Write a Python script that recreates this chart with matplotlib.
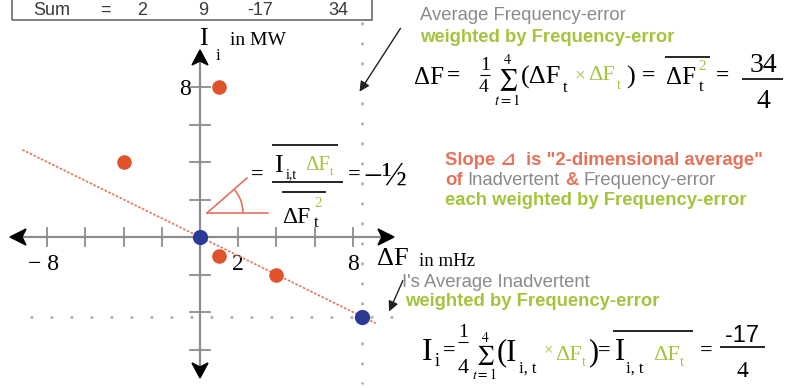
import numpy as np
import matplotlib.pyplot as plt
from matplotlib.patches import Polygon, Rectangle, Arc

# four samples: frequency-error (mHz) and inadvertent interchange (MW)
dF = np.array([1, -4, 1, 4])
I_i = np.array([8, 4, -1, -2])

x_ticks = [-8, -6, -4, -2, 2, 4, 6, 8]
y_ticks = [8, 6, 4, 2, -2, -4, -6]
x_tick_labels = {-8: "\u2212 8", 2: "2", 8: "8"}
y_tick_labels = {8: "8"}
line_x = np.array([-9.3, 9.2])   # extent of the slope line

# sums and weighted averages
n = len(dF)
sum_dF = dF.sum()
sum_I = I_i.sum()
sum_IdF = (I_i * dF).sum()
sum_dF2 = (dF ** 2).sum()
dF_w = sum_dF2 / n
I_w = sum_IdF / n
slope = sum_IdF / sum_dF2
blue_x = [0, dF_w]
blue_y = [0, I_w]

ORANGE = "#e0522b"
BLUE = "#2c3a96"
SALMON = "#e5735a"
GREEN = "#a3c43c"
GRAY = "#8a8a8a"
AXIS = "#8c8c8c"
SERIF = "Liberation Serif"
SANS = ["Liberation Sans", "DejaVu Sans"]
NOTE = 13.3   # size of the sans-serif notes
SUM = r"$\sum_{t=1}^{%d}$" % n

W, H = 785, 388
X0, Y0 = 200, 237      # pixel of the origin
SX, SY = 19.1, 18.75   # pixels per unit

fig = plt.figure(figsize=(W / 100, H / 100), dpi=100)
ax = fig.add_axes([0, 0, 1, 1])
ax.set_xlim(-X0 / SX, (W - X0) / SX)
ax.set_ylim((Y0 - H) / SY, Y0 / SY)
ax.axis("off")


def P(px, py):
    return (px - X0) / SX, (Y0 - py) / SY


def txt(px, py, s, size, color="black", family=SERIF, weight="normal", ha="left", va="baseline"):
    return ax.text(*P(px, py), s, fontsize=size, color=color, family=family,
                   fontweight=weight, ha=ha, va=va, math_fontfamily="stix")


def flow(px, py, pieces, gap=5):
    r = fig.canvas.get_renderer()
    x = px
    for s, color, weight in pieces:
        t = txt(x, py, s, NOTE, color=color, family=SANS, weight=weight)
        x += t.get_window_extent(renderer=r).width + gap


def hline(x1, x2, py, color="black", lw=1.0):
    a, b = P(x1, py), P(x2, py)
    ax.plot([a[0], b[0]], [a[1], b[1]], color=color, lw=lw, solid_capstyle="butt")


def head(pts):
    ax.add_patch(Polygon([P(*p) for p in pts], closed=True, color="black", zorder=4))


# sum box
ax.add_patch(Rectangle(P(12, 20), (372 - 12) / SX, 26 / SY, fc="none", ec="#6a6a6a", lw=1.2))
for label, cx in zip(["Sum", "=", sum_dF, sum_I, sum_IdF, sum_dF2], [52, 105, 142, 203, 260, 338]):
    txt(cx, 15, str(label), 13, color="#3a3a3a", family=SANS, ha="center")

# dotted guide lines at the weighted averages
ax.plot([dF_w, dF_w], [P(0, 22)[1], P(0, 384)[1]], color="#b0b0b0", lw=2, ls=(0, (1, 6.2)))
ax.plot([P(30, 0)[0], P(396, 0)[0]], [I_w, I_w], color="#b0b0b0", lw=2, ls=(0, (1, 6.2)))

# axes
ax.plot([P(16, 0)[0], P(386, 0)[0]], [0, 0], color=AXIS, lw=1.6)
ax.plot([0, 0], [P(0, 58)[1], P(0, 372)[1]], color=AXIS, lw=1.6)
for t in x_ticks:
    ax.plot([t, t], [9 / SY, -9 / SY], color=AXIS, lw=1.3)
for t in y_ticks:
    ax.plot([-10 / SX, 10 / SX], [t, t], color=AXIS, lw=1.3)
head([(10, 237), (26, 229), (22, 237), (26, 245)])
head([(394, 237), (378, 229), (382, 237), (378, 245)])
head([(200, 50), (192, 65), (200, 61), (208, 65)])
head([(200, 378), (192, 363), (200, 367), (208, 363)])

for t, s in x_tick_labels.items():
    cx = X0 + t * SX
    txt(cx if t > 0 else cx - 4, 270, s, 17, ha="center")
for t, s in y_tick_labels.items():
    txt(191, Y0 - t * SY + 8, s, 17, ha="right")

# axis titles
txt(199, 45, "I", 19)
txt(216, 60, "i", 12)
txt(230, 45, "in MW", 14)
txt(377, 265, "\u0394F", 19)
txt(419, 266, "in mHz", 13.5)

# data
ax.plot(line_x, slope * line_x, color=SALMON, lw=1.2, ls=(0, (1.5, 1)), zorder=3)
ax.scatter(dF, I_i, s=110, color=ORANGE, zorder=5, linewidths=0)
ax.scatter(blue_x, blue_y, s=120, color=BLUE, zorder=5, linewidths=0)

# annotation arrows
ax.annotate("", xy=P(358, 94), xytext=P(402, 26),
            arrowprops=dict(arrowstyle="-|>", color="#222222", lw=1, mutation_scale=15))
ax.annotate("", xy=P(388, 314), xytext=P(404, 278),
            arrowprops=dict(arrowstyle="-|>", color="#222222", lw=1, mutation_scale=15))

# top-right: weighted average frequency-error
txt(420, 20, "Average Frequency-error", NOTE, color=GRAY, family=SANS)
txt(420, 42, "weighted by Frequency-error", NOTE, color=GREEN, family=SANS, weight="bold")
txt(414, 84, "\u0394F", 18)
txt(447, 82, "=", 17, weight="bold")
txt(485, 70, "1", 14, ha="center")
hline(480, 490, 75, lw=0.8)
txt(484, 92, "4", 14, ha="center")
txt(507, 80, SUM, 15, ha="center", va="center")
txt(521, 84, "(\u0394F", 19)
txt(563, 92, "t", 12)
txt(574, 80, "\u00d7", 14, color=GREEN)
txt(588, 80, "\u0394F", 16, color=GREEN)
txt(617, 89, "t", 10, color=GREEN)
txt(626, 84, ")", 19)
txt(642, 82, "=", 17, weight="bold")
hline(665, 710, 57, lw=1.2)
txt(666, 84, "\u0394F", 18)
txt(698, 70, "2", 11, color=GREEN)
txt(699, 91, "t", 12)
txt(716, 82, "=", 17, weight="bold")
txt(763, 72, str(sum_dF2), 20, ha="center")
hline(742, 783, 79, lw=1.2)
txt(763, 108, str(n), 20, ha="center")

# slope = weighted covariance / weighted variance
a0 = P(207, 213)
ax.plot([a0[0], P(247, 178)[0]], [a0[1], P(247, 178)[1]], color=SALMON, lw=1.2)
ax.plot([a0[0], P(268, 213)[0]], [a0[1], a0[1]], color=SALMON, lw=1.2)
ax.add_patch(Arc(a0, 2 * 36 / SX, 2 * 36 / SY, theta1=0, theta2=41, color=SALMON, lw=1.2))
txt(251, 180, "=", 16, weight="bold")
hline(272, 338, 145, lw=1.2)
txt(274, 172, "I", 19)
txt(286, 178, "i,t", 10)
txt(305, 170, "\u0394F", 15, color=GREEN)
txt(330, 175, "t", 9, color=GREEN)
hline(272, 343, 182, lw=1.2)
hline(282, 326, 192, lw=1.2)
txt(282, 223, "\u0394F", 17)
txt(314, 207, "2", 11, color=GREEN)
txt(314, 227, "t", 12)
txt(348, 180, "=", 16, weight="bold")
txt(363, 186, "\u2212\u00bd", 24)

# middle-right explanation
txt(445, 165, "Slope \u22bf  is \"2-dimensional average\"", NOTE, color=SALMON, family=SANS, weight="bold")
flow(445, 185, [("of", SALMON, "bold"), ("Inadvertent", GRAY, "normal"),
                ("&", SALMON, "bold"), ("Frequency-error", GRAY, "normal")])
txt(445, 205, "each weighted by Frequency-error", NOTE, color=GREEN, family=SANS, weight="bold")

# bottom-right: weighted average inadvertent
txt(402, 287, "I's Average Inadvertent", NOTE, color=GRAY, family=SANS)
txt(405, 306, "weighted by Frequency-error", NOTE, color=GREEN, family=SANS, weight="bold")
txt(422, 360, "I", 23)
txt(435, 366, "i", 13)
txt(443, 356, "=", 16, weight="bold")
txt(463, 337, "1", 14, ha="center")
hline(458, 468, 342, lw=0.8)
txt(463, 373, "4", 16, ha="center")
txt(484, 356, SUM, 14, ha="center", va="center")
txt(497, 360, "(I", 22)
txt(519, 373, "i, t", 12)
txt(544, 354, "\u00d7", 12, color=GREEN)
txt(555, 360, "\u0394F", 16, color=GREEN)
txt(582, 366, "t", 10, color=GREEN)
txt(588, 360, ")", 22)
txt(598, 356, "=", 16, weight="bold")
hline(613, 693, 331, lw=1.2)
txt(615, 360, "I", 22)
txt(626, 373, "i, t", 12)
txt(653, 360, "\u0394F", 16, color=GREEN)
txt(680, 366, "t", 10, color=GREEN)
txt(700, 356, "=", 16, weight="bold")
txt(742, 342, str(sum_IdF), 17, family=SANS, ha="center")
hline(720, 765, 347, lw=1.2)
txt(742, 377, str(n), 17, ha="center")

fig.savefig("out.png", dpi=100)
